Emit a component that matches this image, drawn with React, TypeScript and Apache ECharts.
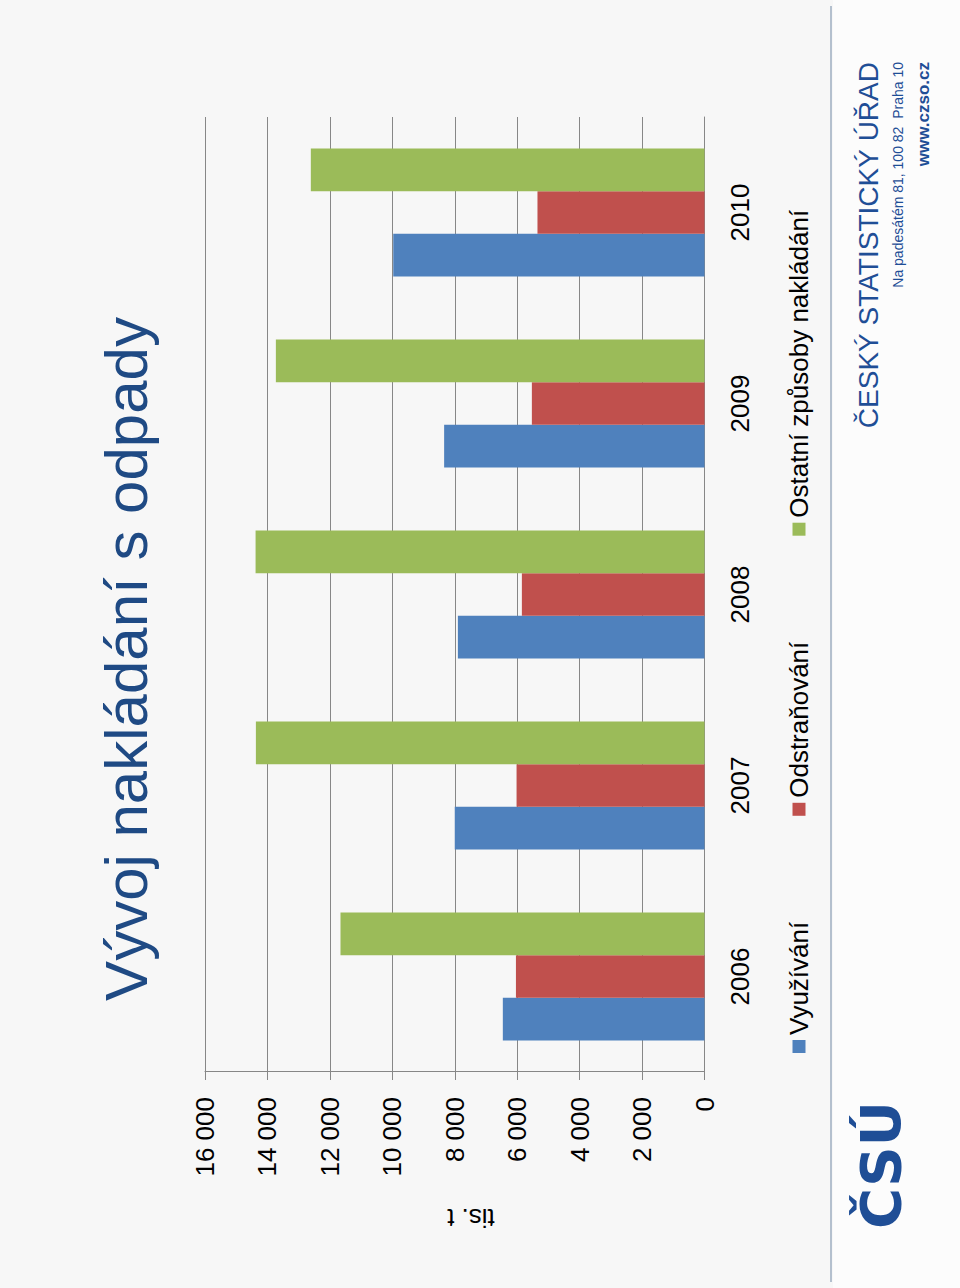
import React, { useEffect, useRef } from "react";
import * as echarts from "echarts";

const categories = ["2006", "2007", "2008", "2009", "2010"];
const seriesNames = ["Využívání", "Odstraňování", "Ostatní způsoby nakládání"];
const vyuzivani = [6460, 8000, 7900, 8340, 9970];
const odstranovani = [6040, 6020, 5850, 5530, 5350];
const ostatni = [11660, 14370, 14380, 13730, 12610];
const valueMin = 0;
const valueMax = 16000;
const valueStep = 2000;
const colors = ["#4F81BD", "#C0504D", "#9BBB59"];

const FONT = "'Liberation Sans', Arial, sans-serif";
const BLUE = "#1F4E96";

function fmt(v: number): string {
  return String(v).replace(/\B(?=(\d{3})+(?!\d))/g, " ");
}

export default function App() {
  const ref = useRef<HTMLDivElement>(null);
  useEffect(() => {
    document.body.style.margin = "0";
    const chart = echarts.init(ref.current!, null, { renderer: "svg", width: 1288, height: 960 });
    const grey = "#878787";
    const data = [vyuzivani, odstranovani, ostatni];
    chart.setOption({
      animation: false,
      backgroundColor: "#f7f7f7",
      textStyle: { fontFamily: FONT },
      grid: { left: 216, right: 117, top: 205, bottom: 255.5, containLabel: false },
      legend: {
        left: 230,
        top: 779,
        itemWidth: 13,
        itemHeight: 13,
        itemGap: 106,
        icon: "rect",
        data: seriesNames,
        textStyle: { fontSize: 26, color: "#000", fontFamily: FONT, lineHeight: 30 },
      },
      xAxis: {
        type: "category",
        data: categories,
        axisLine: { lineStyle: { color: grey, width: 1 } },
        axisTick: { length: 8, lineStyle: { color: grey } },
        axisLabel: { fontSize: 26, color: "#000", margin: 22, fontFamily: FONT },
      },
      yAxis: {
        type: "value",
        min: valueMin,
        max: valueMax,
        interval: valueStep,
        axisLine: { show: true, lineStyle: { color: grey, width: 1 } },
        axisTick: { show: true, length: 8, lineStyle: { color: grey } },
        splitLine: { lineStyle: { color: grey, width: 1 } },
        axisLabel: { fontSize: 26, color: "#000", margin: 25, fontFamily: FONT, formatter: (v: number) => fmt(v) },
      },
      series: seriesNames.map((name, i) => ({
        name,
        type: "bar",
        data: data[i],
        barGap: "0%",
        barCategoryGap: "33%",
        itemStyle: { color: colors[i] },
      })),
      graphic: [
        {
          type: "rect",
          shape: { x: 0, y: 833, width: 1288, height: 127 },
          style: { fill: "#fcfcfc" },
          z: -10,
        },
        {
          type: "line",
          shape: { x1: 6, y1: 831, x2: 1282, y2: 831 },
          style: { stroke: "#b4c0ce", lineWidth: 2 },
        },
        {
          type: "text",
          x: 629,
          y: 126,
          style: { text: "Vývoj nakládání s odpady", fontSize: 60, fill: "#1F4A84", align: "center", verticalAlign: "middle", fontFamily: FONT },
        },
        {
          type: "text",
          x: 70,
          y: 471,
          rotation: Math.PI / 2,
          style: { text: "tis. t", fontSize: 26, fill: "#000", align: "center", verticalAlign: "middle", fontFamily: FONT },
        },
        {
          type: "text",
          x: 1226,
          y: 868,
          style: { text: "ČESKÝ STATISTICKÝ ÚŘAD", fontSize: 28, fill: BLUE, align: "right", verticalAlign: "middle", fontFamily: FONT },
        },
        {
          type: "text",
          x: 1226,
          y: 898,
          style: { text: "Na padesátém 81, 100 82  Praha 10", fontSize: 14, fill: BLUE, align: "right", verticalAlign: "middle", fontFamily: FONT },
        },
        {
          type: "text",
          x: 1226,
          y: 923,
          style: { text: "www.czso.cz", fontSize: 17, fontWeight: "bold", fill: BLUE, align: "right", verticalAlign: "middle", fontFamily: FONT },
        },
        {
          type: "text",
          x: 123,
          y: 880,
          style: { text: "ČSÚ", fontSize: 56, fontWeight: "bold", fill: BLUE, align: "center", verticalAlign: "middle", fontFamily: "'DejaVu Sans', sans-serif" },
        },
      ],
    });
    return () => chart.dispose();
  }, []);
  return (
    <div style={{ position: "relative", width: 960, height: 1288, overflow: "hidden", background: "#fff" }}>
      <div
        ref={ref}
        style={{
          position: "absolute",
          left: 0,
          top: 0,
          width: 1288,
          height: 960,
          transformOrigin: "0 0",
          transform: "translate(0px, 1288px) rotate(-90deg)",
        }}
      />
    </div>
  );
}
